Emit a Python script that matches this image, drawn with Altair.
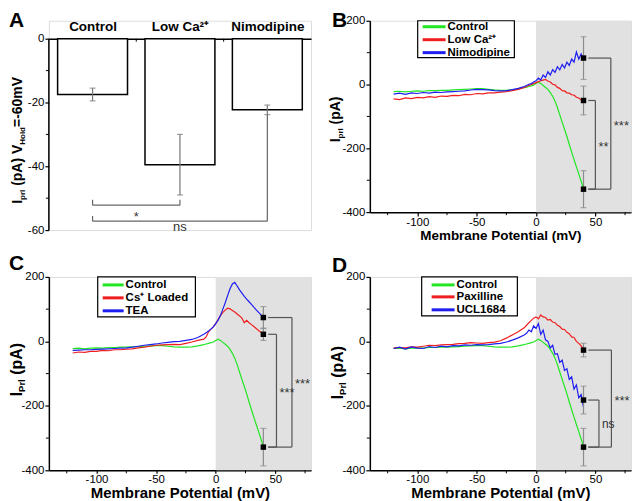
import altair as alt
import pandas as pd

FONT = "Liberation Sans"

# ---------------- data ----------------
# membrane potential sample points (mV) where traces were read
V = [-120, -115, -110, -105, -100, -95, -90, -85, -80, -75, -70, -65, -60,
     -55, -50, -45, -40, -35, -30, -25, -20, -15, -10,
     -8, -6, -4, -2, 0, 2, 4, 6, 8, 10, 12, 14, 16, 18, 20, 22, 24, 26, 28,
     30, 32, 34, 36, 38, 40]

CONTROL = [-22, -21, -23, -21, -20, -21, -19, -19, -18, -18, -17, -16, -15,
           -14, -13, -13, -15, -17, -18, -18, -17, -14, -10,
           -8, -6, -4, -2, 3, 7, 3, -3, -9, -15, -25, -37, -52, -72, -95, -118, -140, -163, -188,
           -212, -235, -258, -280, -303, -326]
LOW_CA = [-45, -47, -42, -44, -40, -42, -38, -40, -36, -37, -34, -35, -31,
          -32, -28, -29, -26, -26, -24, -22, -19, -15, -9,
          -6, -3, 0, 3, 6, 9, 12, 14, 16, 11, 8, 1, -1, -9, -12, -19, -20, -26, -27,
          -32, -33, -40, -42, -48, -53]
NIMODIPINE = [-30, -27, -31, -26, -28, -25, -27, -24, -25, -23, -22, -21, -20,
              -17, -15, -16, -17, -19, -20, -19, -16, -12, -6,
              -3, 1, 3, 8, 12, 20, 14, 30, 22, 40, 30, 47, 38, 56, 46, 63, 52, 70, 60,
              80, 70, 102, 80, 96, 78]
CS_LOADED = [-36, -33, -34, -31, -31, -28, -29, -26, -26, -24, -23, -20, -18,
             -15, -12, -11, -10, -9, -10, -6, -2, 3, 7,
             14, 30, 38, 45, 55, 68, 80, 90, 97, 103, 101, 96, 91, 85, 79, 72, 58, 65, 58,
             52, 46, 40, 34, 28, 22]
TEA = [-28, -27, -26, -26, -25, -24, -23, -22, -21, -20, -18, -15, -12,
       -10, -8, -5, -3, -1, 0, 3, 6, 12, 22,
       27, 32, 38, 45, 55, 66, 80, 100, 120, 142, 163, 178, 183, 172, 160, 150, 140, 131, 123,
       115, 106, 98, 90, 82, 74]
PAXILLINE = [-20, -19, -20, -17, -18, -15, -12, -13, -11, -10, -9, -7, -6,
             -4, -5, -6, -4, -2, 2, 10, 20, 30, 42,
             50, 58, 65, 72, 76, 70, 82, 76, 74, 66, 68, 60, 58, 50, 46, 38, 37, 28, 24,
             14, 12, 0, -6, -14, -25]
UCL1684 = [-22, -18, -24, -17, -21, -22, -16, -19, -15, -17, -13, -14, -11,
           -12, -10, -11, -10, -8, -6, -2, 4, 11, 20,
           25, 35, 30, 48, 40, 55, 22, 35, 5, 0, -20, -12, -40, -38, -65, -58, -90, -85, -118,
           -110, -148, -135, -175, -165, -205]

MEAN_V = 40  # potential where the summary points sit

A_CATS = ["Control", "Low Ca²⁺", "Nimodipine"]
A_MEAN = [-17.5, -39.5, -22.3]
A_ERR = [2.0, 9.5, 1.5]
A_YTICKS = [0, -20, -40, -60]
A_YMINOR = [-10, -30, -50]

B_NAMES = ["Control", "Low Ca²⁺", "Nimodipine"]
B_SERIES = [CONTROL, LOW_CA, NIMODIPINE]
B_MEAN = [-328, -50, 83]
B_ERR = [58, 45, 67]
B_BRACKETS = [(2, 0, 63, "***"), (1, 0, 50, "**")]

C_NAMES = ["Control", "Cs⁺ Loaded", "TEA"]
C_SERIES = [CONTROL, CS_LOADED, TEA]
C_MEAN = [-328, 22, 74]
C_ERR = [58, 19, 34]
C_BRACKETS = [(2, 0, 64, "***"), (1, 0, 51, "***")]

D_NAMES = ["Control", "Paxilline", "UCL1684"]
D_SERIES = [CONTROL, PAXILLINE, UCL1684]
D_MEAN = [-328, -27, -182]
D_ERR = [58, 21, 43]
D_BRACKETS = [(1, 0, 63.5, "***"), (2, 0, 53, "ns")]

COLORS = ["#22e622", "#f01e1e", "#1e1ef0"]
SHADE = [0, 80]
X_DOMAIN = [-140, 80]
Y_DOMAIN = [-400, 200]
X_TICKS = [-100, -50, 0, 50]
X_MINOR = [-125, -75, -25, 25, 75]
Y_TICKS = [-400, -200, 0, 200]
Y_MINOR = [-300, -100, 100]

MINUS = "replace(datum.label, '\u2212', '-')"
ONE = pd.DataFrame({"k": [0]})

ARIAL_BOLD = {"I": 278, "p": 611, "r": 389, "l": 278, " ": 278, "(": 333, ")": 333,
              "A": 722, "V": 667, "H": 722, "o": 611, "d": 611, "=": 584, "-": 333,
              "6": 556, "0": 556, "m": 889, "P": 667}


def tw(s, fs):
    return sum(ARIAL_BOLD.get(c, 556) for c in s) * fs / 1000.0


def rotated_title(segments, x_base, y_center):
    total = sum(tw(t, fs) for t, fs, _ in segments)
    y = y_center + total / 2
    layers = []
    for t, fs, sub in segments:
        lead = len(t) - len(t.lstrip(" "))
        y0 = y - tw(t[:lead], fs)
        layers.append(
            alt.Chart(ONE).mark_text(text=t.strip(), font=FONT, fontSize=fs, fontWeight="bold",
                                     angle=270, align="left", baseline="alphabetic", color="black")
            .encode(x=alt.value(x_base + (sub if sub else 0)), y=alt.value(y0)))
        y -= tw(t, fs)
    return layers


def letter(ch, x, y):
    return alt.Chart(ONE).mark_text(text=ch, font=FONT, fontSize=21, fontWeight="bold",
                                    align="left", baseline="top", color="black").encode(
        x=alt.value(x), y=alt.value(y))


def legend_layers(names, box, rows, line_x, text_x):
    layers = [alt.Chart(ONE).mark_rect(fill="white", stroke="black", strokeWidth=1.2).encode(
        x=alt.value(box[0]), x2=alt.value(box[1]), y=alt.value(box[2]), y2=alt.value(box[3]))]
    for n, c, ry in zip(names, COLORS, rows):
        layers.append(alt.Chart(ONE).mark_rule(color=c, strokeWidth=3).encode(
            x=alt.value(line_x[0]), x2=alt.value(line_x[1]), y=alt.value(ry)))
        layers.append(alt.Chart(ONE).mark_text(text=n, font=FONT, fontSize=11.5, fontWeight="bold",
                                               align="left", baseline="middle", color="black").encode(
            x=alt.value(text_x), y=alt.value(ry)))
    return layers


def iv_panel(ch, names, series, means, errs, brackets, W, H, fs_tick, fs_title, title_pad,
             tick_size, label_pad, ysegs, ytitle_x, ytitle_c, legend, letter_xy):
    xs = alt.Scale(domain=X_DOMAIN, nice=False, zero=False)
    ys = alt.Scale(domain=Y_DOMAIN, nice=False, zero=False)
    xaxis = alt.Axis(values=X_TICKS, title="Membrane Potential (mV)", titleFont=FONT,
                     titleFontSize=fs_title, titleFontWeight="bold", titleColor="black",
                     titlePadding=title_pad, labelFont=FONT, labelFontSize=fs_tick,
                     labelColor="black", labelPadding=label_pad, tickSize=tick_size,
                     tickColor="black", tickWidth=1.2, domainColor="black", domainWidth=1.5,
                     grid=False, labelExpr=MINUS, labelFlush=False)
    yaxis = alt.Axis(values=Y_TICKS, title=None, labelFont=FONT, labelFontSize=fs_tick,
                     labelColor="black", labelPadding=1, tickSize=4, tickColor="black",
                     tickWidth=1.2, domainColor="black", domainWidth=1.5, grid=False,
                     labelExpr=MINUS, labelFlush=False)

    def X(f):
        return alt.X(f, type="quantitative", scale=xs, axis=xaxis)

    def Y(f):
        return alt.Y(f, type="quantitative", scale=ys, axis=yaxis)

    layers = []
    shade = pd.DataFrame({"x0": [SHADE[0]], "x1": [SHADE[1]]})
    layers.append(alt.Chart(shade).mark_rect(color="#e1e1e1").encode(
        x=X("x0"), x2=alt.X2("x1"), y=alt.value(0), y2=alt.value(H)))
    # minor ticks
    layers.append(alt.Chart(pd.DataFrame({"v": X_MINOR})).mark_rule(color="black", strokeWidth=1).encode(
        x=X("v"), y=alt.value(H), y2=alt.value(H + 3)))
    layers.append(alt.Chart(pd.DataFrame({"i": Y_MINOR})).mark_rule(color="black", strokeWidth=1).encode(
        y=Y("i"), x=alt.value(0), x2=alt.value(-3)))
    for vals, c in zip(series, COLORS):
        d = pd.DataFrame({"v": V, "i": vals})
        layers.append(alt.Chart(d).mark_line(color=c, strokeWidth=1.2).encode(x=X("v"), y=Y("i")))
    # brackets
    segs = []
    for u, l, vx, _ in brackets:
        segs.append({"x": MEAN_V + 4, "x2": vx, "y": means[u], "y2": means[u]})
        segs.append({"x": MEAN_V + 4, "x2": vx, "y": means[l], "y2": means[l]})
        segs.append({"x": vx, "x2": vx, "y": means[u], "y2": means[l]})
    layers.append(alt.Chart(pd.DataFrame(segs)).mark_rule(color="#555555", strokeWidth=1.2).encode(
        x=X("x"), x2=alt.X2("x2"), y=Y("y"), y2=alt.Y2("y2")))
    for u, l, vx, lab in brackets:
        d = pd.DataFrame({"x": [vx], "y": [(means[u] + means[l]) / 2], "t": [lab]})
        stars = lab.startswith("*")
        layers.append(alt.Chart(d).mark_text(font=FONT, fontSize=13 if stars else 12, color="#333333",
                                             align="left", dx=3, dy=6 if stars else 0,
                                             baseline="alphabetic" if stars else "middle").encode(
            x=X("x"), y=Y("y"), text="t:N"))
    # error bars and mean points
    ed = pd.DataFrame({"v": [MEAN_V] * 3, "m": means,
                       "lo": [m - e for m, e in zip(means, errs)],
                       "hi": [m + e for m, e in zip(means, errs)]})
    layers.append(alt.Chart(ed).mark_rule(color="#8c8c8c", strokeWidth=1.2).encode(
        x=X("v"), y=Y("lo"), y2=alt.Y2("hi")))
    for f in ["lo", "hi"]:
        layers.append(alt.Chart(ed).mark_tick(orient="horizontal", size=6, thickness=1.2,
                                              color="#8c8c8c").encode(x=X("v"), y=Y(f)))
    layers.append(alt.Chart(ed).mark_square(size=30, color="black", opacity=1).encode(
        x=X("v"), y=Y("m")))
    layers += legend_layers(names, *legend)
    layers.append(letter(ch, *letter_xy))
    layers += rotated_title(ysegs, ytitle_x, ytitle_c)
    return alt.layer(*layers).properties(width=W, height=H)


def panel_a(W, H):
    y_top = 5.625
    ys = alt.Scale(domain=[-60, y_top], nice=False, zero=False)
    xs = alt.Scale(domain=[0, len(A_CATS)], nice=False, zero=False)
    label_expr = "[" + ",".join("'" + c + "'" for c in A_CATS) + "][floor(datum.value)]"
    xaxis = alt.Axis(orient="top", offset=-18, values=[i + 0.5 for i in range(len(A_CATS))],
                     labelExpr=label_expr, title=None, ticks=False, labelAngle=0, labelFont=FONT,
                     labelFontSize=13.5, labelFontWeight="bold", labelColor="black",
                     labelPadding=5, domainColor="black", domainWidth=1.5, grid=False)
    yaxis = alt.Axis(values=A_YTICKS, domain=False, tickSize=4, tickColor="black",
                     tickWidth=1.2, labelFont=FONT, labelFontSize=11.5, labelColor="black",
                     labelPadding=1, labelExpr=MINUS, title=None, grid=False, labelFlush=False)

    def X(f):
        return alt.X(f, type="quantitative", scale=xs, axis=xaxis)

    def Y(f):
        return alt.Y(f, type="quantitative", scale=ys, axis=yaxis)

    idx = list(range(len(A_CATS)))
    df = pd.DataFrame({"x0": [i + 0.1 for i in idx], "x1": [i + 0.9 for i in idx],
                       "xc": [i + 0.5 for i in idx], "m": A_MEAN, "z": [0] * 3,
                       "lo": [m - e for m, e in zip(A_MEAN, A_ERR)],
                       "hi": [m + e for m, e in zip(A_MEAN, A_ERR)]})
    layers = []
    layers.append(alt.Chart(pd.DataFrame({"y0": [A_YTICKS[0]], "y1": [A_YTICKS[-1]]})).mark_rule(
        color="black", strokeWidth=1.5).encode(x=alt.value(0), y=Y("y0"), y2=alt.Y2("y1")))
    layers.append(alt.Chart(pd.DataFrame({"i": A_YMINOR})).mark_rule(color="black", strokeWidth=1).encode(
        y=Y("i"), x=alt.value(0), x2=alt.value(-3)))
    # small ticks on the top axis between the categories
    layers.append(alt.Chart(pd.DataFrame({"b": [1, 2], "y0": [0, 0]})).mark_rule(
        color="black", strokeWidth=1).encode(x=X("b"), y=Y("y0"), y2=alt.value(21)))
    layers.append(alt.Chart(df).mark_rect(fill="white", stroke="black", strokeWidth=1.5).encode(
        x=X("x0"), x2=alt.X2("x1"), y=Y("m"), y2=alt.Y2("z")))
    layers.append(alt.Chart(df).mark_rule(color="#777777", strokeWidth=1.2).encode(
        x=X("xc"), y=Y("lo"), y2=alt.Y2("hi")))
    for f in ["lo", "hi"]:
        layers.append(alt.Chart(df).mark_tick(orient="horizontal", size=6, thickness=1.2,
                                              color="#777777").encode(x=X("xc"), y=Y(f)))
    # significance brackets: (left idx, right idx, level, left tick top, right tick top, label, dy)
    brackets = [(0, 1, -52.2, -50.5, -50.5, "*", 16),
                (0, 2, -57.2, -55.6, A_MEAN[2] - A_ERR[2], "ns", 10)]
    segs = []
    for i, j, yb, tl, tr, lab, dy in brackets:
        segs.append({"x": i + 0.5, "x2": j + 0.5, "y": yb, "y2": yb})
        segs.append({"x": i + 0.5, "x2": i + 0.5, "y": tl, "y2": yb})
        segs.append({"x": j + 0.5, "x2": j + 0.5, "y": tr, "y2": yb})
    layers.append(alt.Chart(pd.DataFrame(segs)).mark_rule(color="#666666", strokeWidth=1.2).encode(
        x=X("x"), x2=alt.X2("x2"), y=Y("y"), y2=alt.Y2("y2")))
    for i, j, yb, tl, tr, lab, dy in brackets:
        d = pd.DataFrame({"x": [(i + j) / 2 + 0.5], "y": [yb], "t": [lab]})
        layers.append(alt.Chart(d).mark_text(font=FONT, fontSize=13, color="#333333",
                                             baseline="alphabetic", dy=dy).encode(
            x=X("x"), y=Y("y"), text="t:N"))
    layers.append(letter("A", -40, -11))
    layers += rotated_title([("I", 14, 0), ("prl", 8, 3), (" (pA) V", 14, 0), ("Hold", 8, 3),
                             ("=-60mV", 14, 0)], -27, 120)
    return alt.layer(*layers).properties(width=W, height=H)


W1, W2 = 263, 262
pA = panel_a(W1, 210)
pB = iv_panel("B", B_NAMES, B_SERIES, B_MEAN, B_ERR, B_BRACKETS, W2, 192, 11.5, 13.5, 0.5, 4, 0,
              [("I", 14, 0), ("prl", 8, 3), (" (pA)", 14, 0)], -30, 99,
              ((48, 145, 0, 37), (6, 19, 32), (53, 76), 78), (-38, -11))
pC = iv_panel("C", C_NAMES, C_SERIES, C_MEAN, C_ERR, C_BRACKETS, W1, 194, 11.5, 15, 1, 3, 0,
              [("I", 16, 0), ("Prl", 9.5, 3.5), (" (pA)", 16, 0)], -27, 93,
              ((49, 147, 0, 40), (8, 21, 34), (54, 75), 77), (-40, -24))
pD = iv_panel("D", D_NAMES, D_SERIES, D_MEAN, D_ERR, D_BRACKETS, W2, 194, 11.5, 15, 1, 3, 0,
              [("I", 16, 0), ("Prl", 9.5, 3.5), (" (pA)", 16, 0)], -27, 96,
              ((52, 148, 0, 39), (8, 20, 33), (62, 85), 87), (-38, -22))

chart = alt.concat(pA, pB, pC, pD, columns=2, spacing={"row": 47, "column": 59},
                   bounds="flush").properties(padding=0).configure_view(strokeWidth=0).configure(
    font=FONT)

chart.save("out.html", embed_options={"renderer": "svg", "actions": False})
